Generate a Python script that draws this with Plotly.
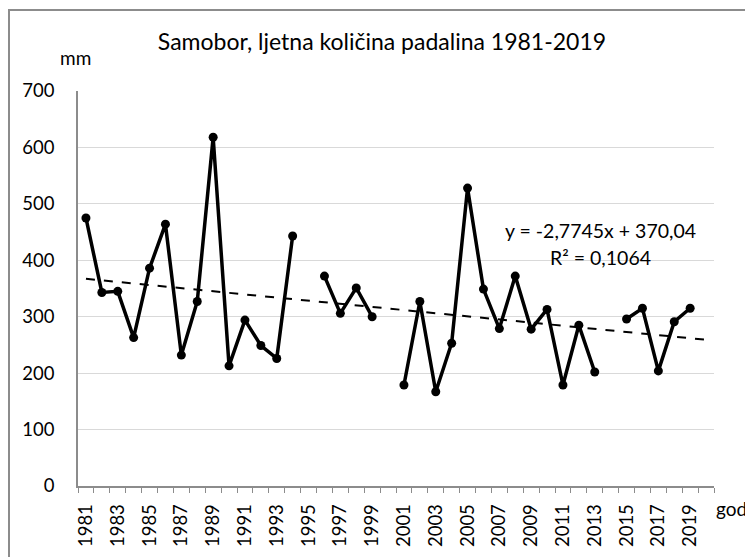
import plotly.graph_objects as go

years = list(range(1981, 2021))
precip = [475, 343, 345, 263, 386, 464, 232, 327, 618, 213,
          294, 249, 226, 443, None, 372, 306, 351, 300, None,
          179, 327, 167, 253, 528, 349, 279, 372, 278, 313,
          179, 285, 202, None, 296, 315, 204, 291, 315, None]

trend_slope = -2.7745
trend_intercept = 370.04
trend_r2 = 0.1064

title_text = "Samobor, ljetna količina padalina 1981-2019"
y_unit = "mm"
x_unit = "god"
label_years = list(range(1981, 2020, 2))
y_ticks = [0, 100, 200, 300, 400, 500, 600, 700]

FONT = "Lato, Carlito, Calibri, sans-serif"

trend_x = [years[0], years[-1]]
trend_y = [trend_slope * (yr - years[0] + 1) + trend_intercept for yr in trend_x]

# page has an 8px body margin: the figure is drawn from page (8, 8)
OFF = 8
W, H = 753 - OFF, 557 - OFF

def fx(page_x):
    return (page_x - OFF) / W

def fy(page_y):
    return 1 - (page_y - OFF) / H

# plot area in page pixels
PL, PR, PT, PB = 78, 714, 91, 486

fig = go.Figure()
fig.add_trace(go.Scatter(
    x=trend_x, y=trend_y, mode="lines",
    line=dict(color="black", width=2, dash="dash"),
    hoverinfo="skip", showlegend=False))
fig.add_trace(go.Scatter(
    x=years, y=precip, mode="lines+markers",
    line=dict(color="black", width=3.5),
    marker=dict(color="black", size=9),
    connectgaps=False, showlegend=False))
# invisible helper trace that creates the frame subplot (chart-area border)
fig.add_trace(go.Scatter(
    x=[0.5], y=[0.5], xaxis="x2", yaxis="y2", mode="markers",
    marker=dict(opacity=0, size=1), hoverinfo="skip", showlegend=False))

fig.update_layout(
    width=W, height=H,
    margin=dict(l=0, r=0, t=0, b=0, autoexpand=False),
    paper_bgcolor="white", plot_bgcolor="rgba(0,0,0,0)",
    font=dict(family=FONT, color="black", size=18),
    title=dict(text=title_text, x=(382 - OFF) / W, xanchor="center",
               y=1 - (42 - OFF) / H, yanchor="middle",
               font=dict(size=23, family=FONT, color="black")),
    xaxis=dict(
        domain=[fx(PL), fx(PR)], anchor="y",
        range=[1980.5, 2020.5], automargin=False,
        tickmode="array", tickvals=label_years,
        ticktext=[str(y) for y in label_years],
        tickangle=-90, ticks="outside", ticklen=9,
        tickcolor="rgba(0,0,0,0)",
        minor=dict(tickmode="array",
                   tickvals=[y - 0.5 for y in years] + [years[-1] + 0.5],
                   ticks="outside", ticklen=5, tickcolor="#8c8c8c", tickwidth=1),
        showgrid=False, zeroline=False,
        showline=True, linecolor="#8c8c8c", linewidth=1.5,
        tickfont=dict(size=18.5, family=FONT, color="black"),
    ),
    yaxis=dict(
        domain=[fy(PB), fy(PT)], anchor="x",
        range=[0, 700], automargin=False,
        tickmode="array", tickvals=y_ticks,
        showgrid=True, gridcolor="#d9d9d9", gridwidth=1,
        zeroline=False, showline=True, linecolor="#8c8c8c", linewidth=1.5,
        ticks="outside", ticklen=18, tickcolor="rgba(0,0,0,0)",
        tickfont=dict(size=18.5, family=FONT, color="black"),
    ),
    xaxis2=dict(
        domain=[2.0 / W, 1], anchor="y2", side="top", range=[0, 1],
        showline=True, linecolor="#8c8c8c", linewidth=1.5,
        showticklabels=False, ticks="", showgrid=False, zeroline=False,
        automargin=False, fixedrange=True,
    ),
    yaxis2=dict(
        domain=[0, fy(10.7)], anchor="x2", side="left", range=[0, 1],
        showline=True, linecolor="#8c8c8c", linewidth=1.5,
        showticklabels=False, ticks="", showgrid=False, zeroline=False,
        automargin=False, fixedrange=True,
    ),
    annotations=[
        dict(text=y_unit, xref="paper", yref="paper",
             x=fx(75), y=fy(58),
             xanchor="center", yanchor="middle", showarrow=False,
             font=dict(size=19, family=FONT, color="black")),
        dict(text=x_unit, xref="paper", yref="paper",
             x=fx(714), y=fy(508),
             xanchor="left", yanchor="middle", showarrow=False,
             font=dict(size=19, family=FONT, color="black")),
        dict(text="y = -2,7745x + 370,04", xref="paper", yref="paper",
             x=fx(600), y=fy(230),
             xanchor="center", yanchor="middle", showarrow=False,
             font=dict(size=19.5, family=FONT, color="black")),
        dict(text="R² = 0,1064", xref="paper", yref="paper",
             x=fx(600), y=fy(257),
             xanchor="center", yanchor="middle", showarrow=False,
             font=dict(size=19.5, family=FONT, color="black")),
    ],
)

fig.write_html("out.html")
